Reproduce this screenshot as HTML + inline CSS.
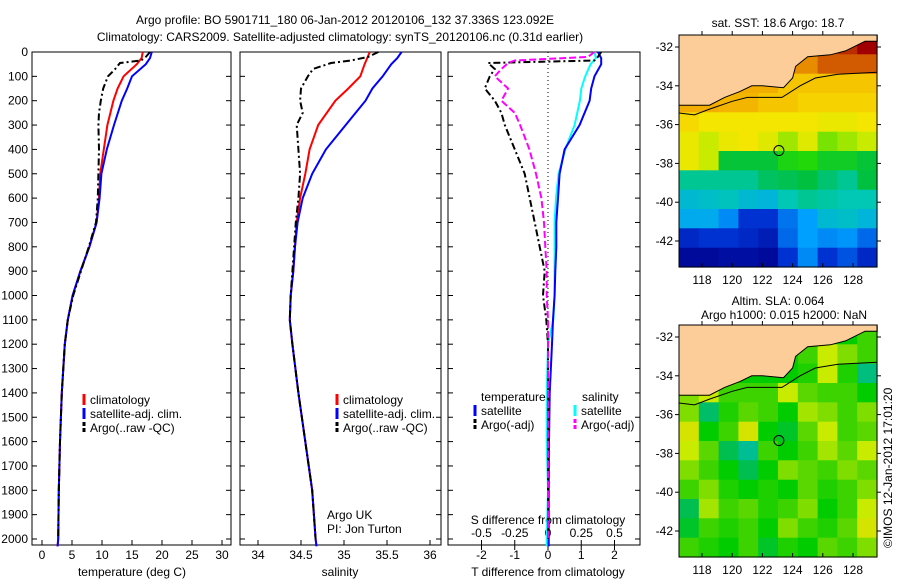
<!DOCTYPE html>
<html><head><meta charset="utf-8"><style>
body{margin:0;background:#fff;}
svg{display:block;font-family:"Liberation Sans",sans-serif;}
text{font-size:12px;fill:#000;}
</style></head><body>
<svg id="s" width="900" height="580" xmlns="http://www.w3.org/2000/svg">
<text x="345" y="24" text-anchor="middle">Argo profile: BO 5901711_180 06-Jan-2012 20120106_132 37.336S 123.092E</text>
<text x="340" y="41" text-anchor="middle">Climatology: CARS2009. Satellite-adjusted climatology: synTS_20120106.nc (0.31d earlier)</text>
<text x="778" y="27" text-anchor="middle">sat. SST: 18.6 Argo: 18.7</text>
<text x="778" y="305" text-anchor="middle">Altim. SLA: 0.064</text>
<text x="784" y="319" text-anchor="middle">Argo h1000: 0.015 h2000: NaN</text>
<text transform="translate(892,548) rotate(-90)">©IMOS 12-Jan-2012 17:01:20</text>
</svg>
<script>
// ---------- data ----------
const depthTicks=[0,100,200,300,400,500,600,700,800,900,1000,1100,1200,1300,1400,1500,1600,1700,1800,1900,2000];
const tempTicks=[0,5,10,15,20,25,30];
const salTicks=[34,34.5,35,35.5,36];
const tdiffTicks=[-2,-1,0,1,2];
const sdiffTicks=[-0.5,-0.25,0,0.25,0.5];
const sdiffLabels=["-0.5","-0.25","0","0.25","0.5"];
const depths=[0,25,50,100,150,200,300,400,500,600,700,800,900,1000,1100,1200,1400,1600,1800,2000,2030];
const tempClim=[16.8,16.6,15.8,13.6,12.6,11.9,10.9,10.3,9.7,9.5,9.1,7.9,6.4,5.1,4.3,3.8,3.3,3.0,2.8,2.7,2.6];
const tempSat=[18.3,18.0,17.3,15.0,14.2,13.3,12.0,10.8,9.9,9.6,9.1,7.9,6.4,5.1,4.3,3.8,3.3,3.0,2.8,2.7,2.6];
const argoDepths=[0,20,35,45,70,100,150,200,250,300,400,500,600,700,800,900,1000,1100,1200,1400,1600,1800,2000];
const tempArgo=[18.0,17.3,16.5,13.0,12.2,11.0,10.2,9.8,9.5,9.4,9.5,9.4,9.3,9.0,7.8,6.5,5.2,4.3,3.8,3.3,3.0,2.8,2.7];
const salClim=[35.30,35.27,35.24,35.19,35.05,34.90,34.70,34.60,34.55,34.49,34.45,34.43,34.41,34.38,34.37,34.40,34.47,34.55,34.63,34.67,34.68];
const salSat=[35.67,35.62,35.55,35.45,35.33,35.25,35.02,34.79,34.63,34.52,34.46,34.43,34.41,34.38,34.37,34.40,34.47,34.55,34.63,34.67,34.68];
const salArgo=[35.40,35.28,35.08,34.85,34.64,34.58,34.50,34.49,34.52,34.45,34.47,34.49,34.47,34.44,34.42,34.40,34.38,34.37,34.40,34.47,34.55,34.63,34.67];
const tdiffSat=[1.5,1.6,1.6,1.4,1.3,1.25,0.95,0.5,0.35,0.3,0.25,0.25,0.22,0.2,0.15,0.12,0.05,0.03,0.02,0.02,0.02];
const sdiffSat=[0.35,0.36,0.32,0.28,0.25,0.24,0.2,0.13,0.08,0.06,0.05,0.05,0.05,0.05,0.04,0.0,-0.01,-0.01,0.0,-0.01,-0.01];
const tdiffArgo=[1.6,1.5,1.4,-1.8,-1.6,-1.75,-1.9,-1.6,-1.4,-1.3,-1.0,-0.7,-0.55,-0.4,-0.25,-0.1,-0.15,-0.05,0.0,0.0,0.0,0.0,0.0];
const sdiffArgo=[0.35,0.3,-0.25,-0.3,-0.35,-0.4,-0.3,-0.35,-0.25,-0.21,-0.14,-0.09,-0.05,-0.03,-0.02,-0.01,-0.01,0,0,0,0,0,0];
const lonTicks=[118,120,122,124,126,128];
const latTicks=[-32,-34,-36,-38,-40,-42];
const sstGrid=[
[21,21,21,21,21,21,21,21,21.5,22],
[20.5,20.5,20.5,20.5,20.5,20.5,20.5,21,21,21],
[20,20,20,20,20,19.5,19.5,19.5,19.5,19.5],
[20,20,19.8,19.8,19.5,19.5,19.3,19.3,19.3,19.3],
[19.2,19.0,19.0,19.0,19.0,19.0,19.0,18.9,18.9,19.0],
[18.9,18.6,18.9,19.0,18.8,18.5,18.8,18.4,18.5,18.6],
[18.9,18.6,17.6,17.6,17.6,18.0,18.1,17.8,17.8,17.6],
[17.0,17.0,17.0,17.0,17.3,17.4,17.5,17.2,17.0,17.5],
[16.5,16.6,16.7,16.5,16.4,16.8,17.0,16.9,16.8,16.8],
[16.2,16.2,15.8,15.0,15.0,15.6,16.0,16.5,16.6,16.4],
[14.8,15.0,15.0,14.8,14.6,15.5,16.0,15.8,15.9,15.5],
[14.2,14.2,14.3,14.3,14.2,15.0,15.8,15.0,15.3,14.8]];
const slaGrid=[
[0,0,0,0,0,0,0,0,0,0.1],
[0,0,0,0,0,0,0.1,0.3,0.2,0.1],
[0,0,0,0,0,0,0.05,0.3,0.05,-0.2],
[0.2,0.3,0.1,0.1,0.1,0.3,0.15,0.1,0.1,0.0],
[0.2,-0.15,0.05,0.15,0.1,0,0.25,0.2,0.1,0.2],
[0.35,0,0.1,0.35,0,-0.05,0.15,0.3,0.1,0.15],
[0.3,0.15,-0.1,-0.25,0.1,0,0.1,0.25,0.15,0.3],
[0.2,0.1,0,-0.1,0,0.2,0.15,0.1,0.2,0.15],
[0.1,0.2,0.05,0,0.05,0,0.15,0.05,0.1,0.2],
[-0.1,0.25,0.1,0.15,0.05,0.1,0.2,0,0.1,0.3],
[-0.05,0.1,0.05,0.1,0,0.2,0.1,0.05,0.15,0.35],
[0.1,0.05,0,0.1,-0.05,0.05,0,0.15,0.1,0.2]];
const coastLon=[116.48,129.6,129.6,128.8,127.5,126.5,125,124.2,124,123.4,122,121.3,120.5,119.5,118.5,117.3,116.48];
const coastLat=[-31.38,-31.38,-31.7,-31.7,-32.2,-32.4,-32.5,-33.0,-33.6,-34.1,-34.0,-34.0,-34.3,-34.6,-35.0,-35.0,-35.0];
const isoLon=[116.48,117.5,118.5,120,121,122,123.3,124.5,125.5,127,129.6];
const isoLat=[-35.4,-35.5,-35.2,-34.8,-34.6,-34.6,-34.6,-34.0,-33.6,-33.4,-33.3];
const argoLon=123.092, argoLat=-37.336;

// ---------- helpers ----------
const S=document.getElementById('s');const NS='http://www.w3.org/2000/svg';
function mk(tag,attrs,parent){const e=document.createElementNS(NS,tag);for(const k in attrs)e.setAttribute(k,attrs[k]);(parent||S).appendChild(e);return e;}
const top0=52,bot0=545;
const yD=d=>top0+d*0.2435;
function panel(x0,x1,name){const g=mk('g',{});


return g;}
function frame(g,x0,x1,y0,y1){mk('rect',{x:x0,y:y0,width:x1-x0,height:y1-y0,fill:'none',stroke:'#000','stroke-width':1},g);}
function line(g,xs,ys,col,dash,name,w){const p=mk('polyline',{points:xs.map((v,i)=>v.toFixed(1)+','+ys[i].toFixed(1)).join(' '),fill:'none',stroke:col,'stroke-width':w||2,'stroke-dasharray':dash||'none'},g);


return p;}
function txt(g,x,y,s,anchor,name){const t=mk('text',{x:x,y:y,'text-anchor':anchor||'start'},g);t.textContent=s;


return t;}
function xticks(g,vals,labels,xf,y,up,ly,name){vals.forEach((v,i)=>{const x=xf(v);mk('line',{x1:x,x2:x,y1:y,y2:y+(up?-5:5),stroke:'#000'},g);txt(g,x,ly,labels[i],'middle',name);});}
function legend(g,x,y,col,dash,label,name){mk('line',{x1:x,x2:x,y1:y-10,y2:y+1,stroke:col,'stroke-width':3,'stroke-dasharray':dash||'none'},g);txt(g,x+6,y,label,'start',name);}

// depth axis labels
const gd=panel(0,0,'depth-axis');
depthTicks.forEach(d=>{txt(gd,28,yD(d)+4,String(d),'end','depth-tick-label');});

// Panel 1 temperature
const xT=t=>42+6*t;
const g1=panel(32,231,'temperature-panel');frame(g1,32,231,top0,bot0);
depthTicks.forEach(d=>{[32,231].forEach((x,j)=>mk('line',{x1:x,x2:x+(j?-5:5),y1:yD(d),y2:yD(d),stroke:'#000'},g1));});
xticks(g1,tempTicks,tempTicks.map(String),xT,bot0,true,559,'temperature-tick-label');
txt(g1,132,576,'temperature (deg C)','middle','temperature-axis-title');
line(g1,tempClim.map(xT),depths.map(yD),'#f00',null,'temp-climatology-line');
line(g1,tempSat.map(xT),depths.map(yD),'#00f',null,'temp-satellite-line');
line(g1,tempArgo.map(xT),argoDepths.map(yD),'#000','7,3,2,3','temp-argo-line');
legend(g1,84,404,'#f00',null,'climatology','legend-climatology');
legend(g1,84,418,'#00f',null,'satellite-adj. clim.','legend-satellite');
legend(g1,84,432,'#000','4,2','Argo(..raw -QC)','legend-argo');

// Panel 2 salinity
const xS=s=>258+86*(s-34);
const g2=panel(240,441,'salinity-panel');frame(g2,240,441,top0,bot0);
depthTicks.forEach(d=>{[240,441].forEach((x,j)=>mk('line',{x1:x,x2:x+(j?-5:5),y1:yD(d),y2:yD(d),stroke:'#000'},g2));});
xticks(g2,salTicks,["34","34.5","35","35.5","36"],xS,bot0,true,559,'salinity-tick-label');
txt(g2,340,576,'salinity','middle','salinity-axis-title');
line(g2,salClim.map(xS),depths.map(yD),'#f00',null,'sal-climatology-line');
line(g2,salSat.map(xS),depths.map(yD),'#00f',null,'sal-satellite-line');
line(g2,salArgo.map(xS),argoDepths.map(yD),'#000','7,3,2,3','sal-argo-line');
legend(g2,337,404,'#f00',null,'climatology','legend-climatology');
legend(g2,337,418,'#00f',null,'satellite-adj. clim.','legend-satellite');
legend(g2,337,432,'#000','4,2','Argo(..raw -QC)','legend-argo');
txt(g2,327,519,'Argo UK','start','argo-uk-label');
txt(g2,327,533,'PI: Jon Turton','start','pi-label');

// Panel 3 differences
const xTd=t=>548+33.25*t;const xSd=s=>548+133*s;
const g3=panel(448,640,'difference-panel');frame(g3,448,640,top0,bot0);
depthTicks.forEach(d=>{[448,640].forEach((x,j)=>mk('line',{x1:x,x2:x+(j?-5:5),y1:yD(d),y2:yD(d),stroke:'#000'},g3));});
mk('line',{x1:548,x2:548,y1:top0,y2:bot0,stroke:'#000','stroke-dasharray':'1,3'},g3);
xticks(g3,tdiffTicks,tdiffTicks.map(String),xTd,bot0,false,559,'tdiff-tick-label');
sdiffTicks.forEach((v,i)=>{const x=xSd(v);mk('line',{x1:x,x2:x,y1:bot0,y2:bot0-5,stroke:'#000'},g3);txt(g3,x,537,sdiffLabels[i],'middle','sdiff-tick-label');});
txt(g3,548,524,'S difference from climatology','middle','sdiff-axis-title');
txt(g3,548,576,'T difference from climatology','middle','tdiff-axis-title');
line(g3,sdiffSat.map(xSd),depths.map(yD),'#0ff',null,'sdiff-satellite-line');
line(g3,tdiffSat.map(xTd),depths.map(yD),'#00f',null,'tdiff-satellite-line');
line(g3,tdiffArgo.map(xTd),argoDepths.map(yD),'#000','7,3,2,3','tdiff-argo-line');
line(g3,sdiffArgo.map(xSd),argoDepths.map(yD),'#f0f','7,3','sdiff-argo-line');
txt(g3,481,401,'temperature','start','legend-temperature-header');
txt(g3,582,401,'salinity','start','legend-salinity-header');
legend(g3,475,415,'#00f',null,'satellite','legend-t-satellite');
legend(g3,475,429,'#000','4,2','Argo(-adj)','legend-t-argo');
legend(g3,575,415,'#0ff',null,'satellite','legend-s-satellite');
legend(g3,575,429,'#f0f','4,2','Argo(-adj)','legend-s-argo');

// Maps
function interp(stops,v){if(v<=stops[0][0])return 'rgb('+stops[0][1].join(',')+')';for(let i=1;i<stops.length;i++){if(v<=stops[i][0]){const a=stops[i-1],b=stops[i],f=(v-a[0])/(b[0]-a[0]);return 'rgb('+a[1].map((c,k)=>Math.round(c+(b[1][k]-c)*f)).join(',')+')';}}return 'rgb('+stops[stops.length-1][1].join(',')+')';}
const sstStops=[[14,[0,0,140]],[15,[0,50,210]],[16,[0,160,255]],[16.8,[0,200,180]],[17.5,[0,192,64]],[18.2,[40,220,0]],[18.6,[200,235,0]],[19.0,[245,230,0]],[19.6,[245,190,0]],[20.3,[240,160,0]],[21,[210,90,0]],[22,[160,0,0]]];
const slaStops=[[-0.3,[0,190,170]],[-0.1,[0,190,80]],[0,[0,204,0]],[0.15,[90,215,0]],[0.3,[200,235,0]],[0.45,[240,210,0]]];
function drawMap(y0,y1,grid,stops,name){
 const x0=679,x1=877;const g=panel(0,0,name);
 const lonX=l=>702+(l-118)*15.1;const latY=la=>y0+12+(-32-la)*19.4;
 const rows=grid.length,cols=grid[0].length;const cw=(x1-x0)/cols,ch=(y1-y0)/rows;
 grid.forEach((row,r)=>row.forEach((v,c)=>{const rc=mk('rect',{x:(x0+c*cw).toFixed(1),y:(y0+r*ch).toFixed(1),width:(cw+0.6).toFixed(1),height:(ch+0.6).toFixed(1),fill:interp(stops,v)},g);
 
 }));
 const land=mk('polygon',{points:coastLon.map((l,i)=>lonX(l).toFixed(1)+','+latY(coastLat[i]).toFixed(1)).join(' '),fill:'#fccc99',stroke:'#000','stroke-width':1},g);
 
 
 line(g,isoLon.map(lonX),isoLat.map(latY),'#000',null,'isobath-line',1);
 const c=mk('circle',{cx:lonX(argoLon),cy:latY(argoLat),r:5,fill:'none',stroke:'#000'},g);
 
 
 frame(g,x0,x1,y0,y1);
 lonTicks.forEach(l=>{const x=lonX(l);mk('line',{x1:x,x2:x,y1:y1,y2:y1-4,stroke:'#000'},g);mk('line',{x1:x,x2:x,y1:y0,y2:y0-4,stroke:'#000'},g);txt(g,x,y1+17,String(l),'middle','lon-tick-label');});
 latTicks.forEach(la=>{const y=latY(la);mk('line',{x1:x0,x2:x0-4,y1:y,y2:y,stroke:'#000'},g);mk('line',{x1:x1,x2:x1+4,y1:y,y2:y,stroke:'#000'},g);txt(g,x0-6,y+4,String(la),'end','lat-tick-label');});
}
drawMap(35,267,sstGrid,sstStops,'sst-map');
drawMap(325,557,slaGrid,slaStops,'sla-map');
</script>
</body></html>
